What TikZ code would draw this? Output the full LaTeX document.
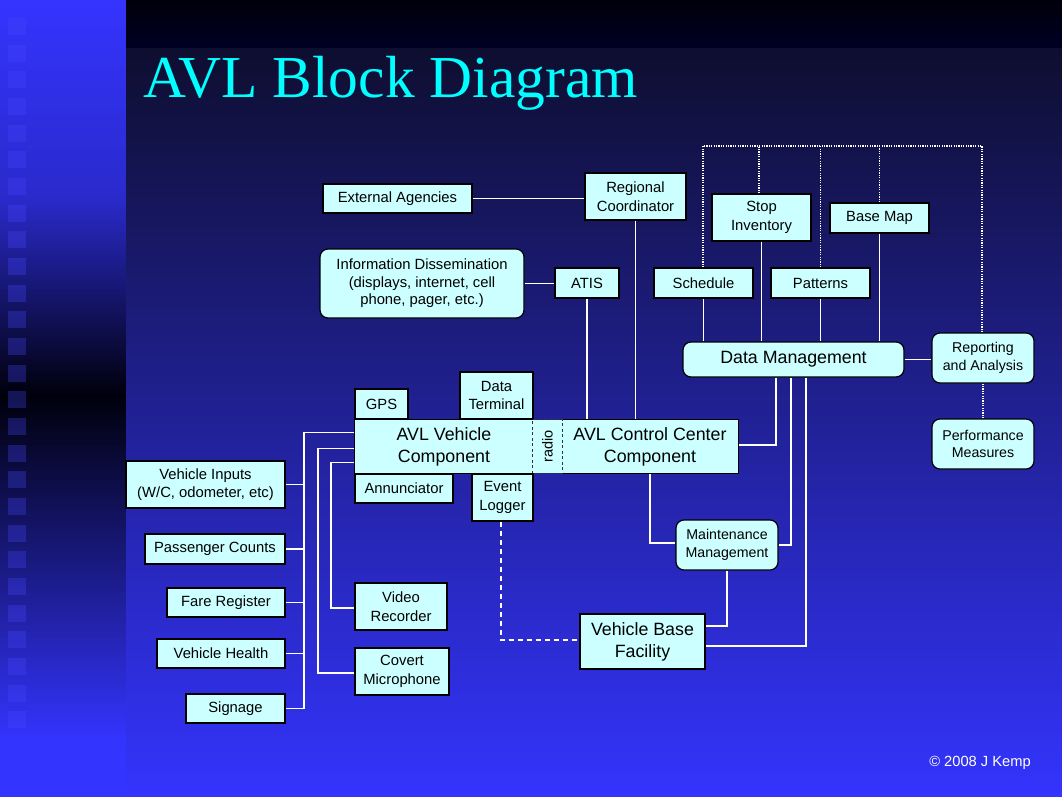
\documentclass[tikz,border=0pt]{standalone}
\usepackage{fontspec}
\setmainfont{Liberation Sans}
\newfontfamily\titlefont{Liberation Serif}
\definecolor{boxfill}{HTML}{CCFFFF}
\definecolor{brightblue}{HTML}{3434FF}
\definecolor{titlecyan}{HTML}{00FFFF}
\definecolor{stripmid}{RGB}{42,42,204}
\definecolor{stripdark}{RGB}{0,0,12}
\definecolor{striplow}{RGB}{30,30,150}
\definecolor{bandtop}{RGB}{0,0,10}
\definecolor{bandbot}{RGB}{0,0,36}
\definecolor{maintop}{RGB}{14,14,48}
\definecolor{mainmid}{RGB}{38,38,184}
\definecolor{squarecol}{RGB}{70,70,255}
\begin{document}
\begin{tikzpicture}[x=1pt,y=-1pt,
  box/.style={draw=black, line width=1.2pt, fill=boxfill, inner sep=0pt, align=center, text=black, font=\fontsize{14.8}{18.5}\selectfont},
  rbox/.style={box, rounded corners=8pt},
  bigtext/.style={font=\fontsize{17.8}{22}\selectfont},
  smalltext/.style={font=\fontsize{14.2}{17.5}\selectfont},
  conn/.style={draw=white, line width=1.1pt},
  dotconn/.style={draw=white, line width=1.4pt, dash pattern=on 1.2pt off 1.2pt},
  dashconn/.style={draw=white, line width=1.4pt, dash pattern=on 5pt off 4pt}]
\useasboundingbox (0,0) rectangle (1062,796);
% background
\shade[top color=brightblue, bottom color=stripmid] (-2,-2) rectangle (126,197);
\shade[top color=stripmid, bottom color=stripdark] (-2,197) rectangle (126,395);
\shade[top color=stripdark, bottom color=striplow] (-2,395) rectangle (126,595);
\shade[top color=striplow, bottom color=brightblue] (-2,595) rectangle (126,740);
\fill[brightblue] (-2,740) rectangle (127,800);
\shade[top color=bandtop, bottom color=bandbot] (126,-2) rectangle (1065,48);
\shade[top color=maintop, middle color=mainmid, bottom color=brightblue] (126,48) rectangle (1065,800);
\foreach \k in {0,...,26} {
  \fill[squarecol, fill opacity=0.3] (8,18+26.67*\k) rectangle (26,35+26.67*\k);
}
% title
\node[anchor=base west, inner sep=0pt, text=titlecyan, font=\titlefont\fontsize{59.5}{60}\selectfont] (title) at (143,97) {AVL Block Diagram};
% nodes
\node[box, minimum width=149pt, minimum height=29pt] (ext) at (397.5,198.5) {External Agencies};
\node[box, minimum width=101pt, minimum height=47pt] (rc) at (635.5,196.5) {Regional\\Coordinator};
\node[rbox, minimum width=204pt, minimum height=69pt, font=\fontsize{14.8}{17.5}\selectfont] (info) at (422,283.5) {Information Dissemination\\(displays, internet, cell\\phone, pager, etc.)};
\node[box, minimum width=64pt, minimum height=30pt] (atis) at (587,283) {ATIS};
\node[box, minimum width=99pt, minimum height=30pt] (sched) at (703.5,283) {Schedule};
\node[box, minimum width=99pt, minimum height=47pt] (stop) at (761.5,217.5) {Stop\\Inventory};
\node[box, minimum width=99pt, minimum height=30pt] (bm) at (879.5,218) {Base Map};
\node[box, minimum width=99pt, minimum height=30pt] (pat) at (820.5,283) {Patterns};
\node[rbox, bigtext, minimum width=221pt, minimum height=35pt] (dm) at (793.5,359.5) {Data Management};
\node[rbox, smalltext, minimum width=102pt, minimum height=50pt] (rep) at (983,358) {Reporting\\and Analysis};
\node[rbox, smalltext, minimum width=102pt, minimum height=50pt] (perf) at (983,444) {Performance\\Measures};
\node[box, minimum width=53pt, minimum height=30pt] (gps) at (381.5,404) {GPS};
\node[box, minimum width=73pt, minimum height=47pt] (dt) at (496.5,395.5) {Data\\Terminal};
\node[box, draw=none, bigtext, minimum width=178pt, minimum height=53pt] (vb) at (444,446.5) {AVL Vehicle\\Component};
\node[box, draw=none, bigtext, minimum width=176pt, minimum height=53pt] (cc) at (650,446.5) {AVL Control Center\\Component};
\node[box, draw=none, minimum width=29pt, minimum height=53pt] (radio) at (547.5,446.5) {};
\node[rotate=90, inner sep=0pt, text=black, font=\fontsize{14.5}{16}\selectfont] (radiotext) at (radio.center) {radio};
\draw[black, line width=1.2pt] (vb.north east) -- (vb.north west) -- (vb.south west) -- (vb.south east);
\draw[black, line width=1.2pt] (cc.north west) -- (cc.north east) -- (cc.south east) -- (cc.south west);
\draw[black!80, line width=1.2pt, dash pattern=on 3pt off 2.5pt] (radio.south west) rectangle (radio.north east);
\node[box, minimum width=98pt, minimum height=29pt] (ann) at (404,488.5) {Annunciator};
\node[box, minimum width=61pt, minimum height=47pt] (el) at (502.5,497.5) {Event\\Logger};
\node[box, minimum width=159pt, minimum height=47pt] (vi) at (205.5,484.5) {Vehicle Inputs\\(W/C, odometer, etc)};
\node[box, minimum width=140pt, minimum height=30pt] (pc) at (215,549) {Passenger Counts};
\node[box, minimum width=118pt, minimum height=29pt] (fr) at (226,602.5) {Fare Register};
\node[box, minimum width=128pt, minimum height=29pt] (vh) at (221,653.5) {Vehicle Health};
\node[box, minimum width=99pt, minimum height=29pt] (sig) at (235.5,708.5) {Signage};
\node[box, minimum width=92pt, minimum height=47pt] (vr) at (401,606.5) {Video\\Recorder};
\node[box, minimum width=94pt, minimum height=47pt] (cm) at (402,671.5) {Covert\\Microphone};
\node[rbox, smalltext, minimum width=102pt, minimum height=50pt] (mm) at (727,545) {Maintenance\\Management};
\node[box, bigtext, minimum width=125pt, minimum height=55pt] (vbf) at (642.5,641.5) {Vehicle Base\\Facility};
\node[anchor=base east, inner sep=0pt, text=white, font=\fontsize{14.7}{16}\selectfont] (copy) at (1031,766) {\textcopyright{} 2008 J Kemp};
% helper coordinates
\coordinate (bus) at (304,0);
\coordinate (x318) at (318,0);
\coordinate (x331) at (331,0);
\coordinate (x776) at (776,0);
\coordinate (x791) at (791,0);
\coordinate (x806) at (806,0);
\coordinate (top) at (0,146);
\coordinate (v1) at ([yshift=-13pt]vb.north west);
\coordinate (v2) at ([yshift=-29pt]vb.north west);
\coordinate (v3) at ([yshift=-43pt]vb.north west);
% connectors
\draw[conn] (ext.east) -- (ext.east -| rc.west);
\draw[conn] (rc.south) -- (rc.south |- cc.north);
\draw[conn] (info.east) -- (info.east -| atis.west);
\draw[conn] (atis.south) -- (atis.south |- cc.north);
\draw[conn] (sched.south) -- (sched.south |- dm.north);
\draw[conn] (stop.south) -- (stop.south |- dm.north);
\draw[conn] (pat.south) -- (pat.south |- dm.north);
\draw[conn] (bm.south) -- (bm.south |- dm.north);
\coordinate (sn) at ([xshift=-0.5pt]sched.north);
\coordinate (rn) at ([xshift=-1pt]rep.north);
\draw[dotconn] (sn) -- (sn |- top) -- (rn |- top) -- (rn);
\coordinate (s1) at ([xshift=-2.5pt]stop.north);
\draw[dotconn] (s1) -- (s1 |- top);
\draw[dotconn] (pat.north) -- (pat.north |- top);
\draw[dotconn] (bm.north) -- (bm.north |- top);
\draw[dotconn] (rep.south) -- (perf.north);
\draw[conn] (dm.east) -- (dm.east -| rep.west);
\coordinate (cce) at ([yshift=1.5pt]cc.east);
\draw[conn] (dm.south -| x776) |- (cce);
\draw[conn] (dm.south -| x791) |- (mm.east);
\coordinate (vbfe1) at ([yshift=-4.5pt]vbf.east);
\coordinate (vbfe2) at ([yshift=15.5pt]vbf.east);
\draw[conn] (dm.south -| x806) |- (vbfe1);
\coordinate (mmw) at ([yshift=2pt]mm.west);
\draw[conn] (cc.south) |- (mmw);
\draw[conn] (mm.south) |- (vbfe2);
\coordinate (e1) at ([xshift=-1.5pt]el.south);
\coordinate (vbfw) at ([yshift=1.5pt]vbf.west);
\draw[dashconn] (e1) |- (vbfw);
\draw[conn] (v1) -| (sig.east -| bus) -- (sig.east);
\draw[conn] (vi.east) -- (vi.east -| bus);
\draw[conn] (pc.east) -- (pc.east -| bus);
\draw[conn] (fr.east) -- (fr.east -| bus);
\draw[conn] (vh.east) -- (vh.east -| bus);
\coordinate (cmw) at ([yshift=-1.5pt]cm.west);
\coordinate (vrw) at ([yshift=-1.5pt]vr.west);
\draw[conn] (v2) -| (cmw -| x318) -- (cmw);
\draw[conn] (v3) -| (vrw -| x331) -- (vrw);
\end{tikzpicture}
\end{document}
